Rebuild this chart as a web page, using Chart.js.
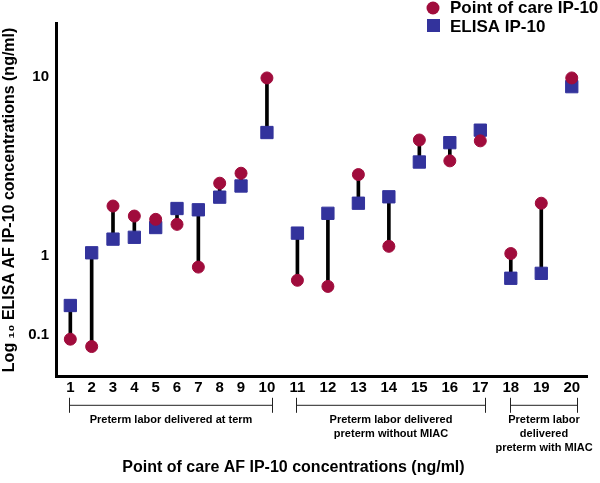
<!DOCTYPE html>
<html>
<head>
<meta charset="utf-8">
<script src="https://cdn.jsdelivr.net/npm/chart.js@4.4.0/dist/chart.umd.min.js"></script>
<style>
  html, body { margin: 0; padding: 0; background: #fff; }
  #wrap { width: 600px; height: 483px; position: relative; }
</style>
</head>
<body>
<div id="wrap"><canvas id="chart-ip10"></canvas></div>
<script>
const cases = ['1', '2', '3', '4', '5', '6', '7', '8', '9', '10',
  '11', '12', '13', '14', '15', '16', '17', '18', '19', '20'];
// ng/ml
const pointOfCare = [0.088, 0.071, 1.9, 1.67, 1.6, 1.5, 0.72, 2.55, 2.9, 9.9,
  0.49, 0.41, 2.85, 1.13, 4.45, 3.4, 4.4, 1.03, 1.97, 9.9];
const elisa = [0.235, 1.04, 1.24, 1.27, 1.44, 1.84, 1.81, 2.13, 2.46, 4.9,
  1.34, 1.73, 1.97, 2.14, 3.35, 4.3, 5.05, 0.52, 0.6, 8.85];
const yTicks = [0.1, 1, 10];
const groupNames = [
  ['Preterm labor delivered at term'],
  ['Preterm labor delivered', 'preterm without MIAC'],
  ['Preterm labor', 'delivered', 'preterm with MIAC']
];
const groupCases = [[1, 10], [11, 17], [18, 20]];

const CIRCLE = '#A00C3C';
const SQUARE = '#33339C';
const FONT = '"Liberation Sans", Arial, Helvetica, sans-serif';

Chart.defaults.font.family = FONT;
Chart.defaults.color = '#000';

// x axis: the first cases sit closer together than the rest
class WeightedCategoryScale extends Chart.CategoryScale {
  static id = 'weightedCategory';
  getPixelForValue(value) {
    if (typeof value !== 'number') value = this.parse(value);
    if (value === null || value === undefined) return NaN;
    const o = this.options;
    const w = i => (i < o.narrowCount ? o.narrowWeight : 1);
    let total = o.leadPad, pos = o.leadPad;
    for (let i = this.min; i <= this.max; i++) {
      if (i < value) pos += w(i);
      total += w(i);
    }
    pos += w(Math.round(value)) / 2;
    return this.getPixelForDecimal(pos / total);
  }
}

// y axis: log axis whose decades above 1 are drawn taller than the one below
class SplitLogScale extends Chart.LinearScale {
  static id = 'splitLog';
  _u(v) {
    const l = Math.log10(v);
    return l > 0 ? l * this.options.decadeRatio : l;
  }
  buildTicks() {
    return yTicks.map(v => ({ value: v }));
  }
  getPixelForValue(value) {
    const a = this._u(this.min), b = this._u(this.max);
    return this.getPixelForDecimal((this._u(value) - a) / (b - a));
  }
}

Chart.register(WeightedCategoryScale, SplitLogScale);

const annotations = {
  id: 'annotations',
  afterDraw(chart) {
    const ctx = chart.ctx;
    const x = chart.scales.x;
    ctx.save();

    // group brackets under the case numbers
    ctx.strokeStyle = '#222';
    ctx.lineWidth = 1;
    ctx.fillStyle = '#000';
    ctx.font = 'bold 11px ' + FONT;
    ctx.textAlign = 'center';
    ctx.textBaseline = 'middle';
    const by = x.top + 28;
    groupCases.forEach(([a, b], g) => {
      const x1 = Math.round(x.getPixelForValue(a - 1)) - 0.5;
      const x2 = Math.round(x.getPixelForValue(b - 1)) + 5.5;
      ctx.beginPath();
      ctx.moveTo(x1, by - 7); ctx.lineTo(x1, by + 8);
      ctx.moveTo(x2, by - 7); ctx.lineTo(x2, by + 8);
      ctx.moveTo(x1, by + 0.5); ctx.lineTo(x2, by + 0.5);
      ctx.stroke();
      groupNames[g].forEach((line, k) => {
        ctx.fillText(line, (x1 + x2) / 2, by + 15 + k * 14);
      });
    });

    // legend, top right
    const ds = chart.data.datasets;
    ctx.textAlign = 'left';
    ctx.font = 'bold 17px ' + FONT;
    ctx.fillStyle = CIRCLE;
    ctx.beginPath();
    ctx.arc(433, 8, 6.5, 0, Math.PI * 2);
    ctx.fill();
    ctx.fillStyle = SQUARE;
    ctx.fillRect(427, 19, 13, 13);
    ctx.fillStyle = '#000';
    ctx.fillText(ds[0].label, 450, 8.5);
    ctx.fillText(ds[1].label, 450, 27);
    ctx.restore();
  }
};

new Chart(document.getElementById('chart-ip10'), {
  type: 'line',
  data: {
    labels: cases,
    datasets: [
      {
        label: 'Point of care IP-10',
        data: pointOfCare,
        showLine: false,
        pointStyle: 'circle',
        pointRadius: 6,
        pointBorderWidth: 1,
        pointBackgroundColor: CIRCLE,
        pointBorderColor: CIRCLE,
        order: 1
      },
      {
        label: 'ELISA IP-10',
        data: elisa,
        showLine: false,
        pointStyle: 'rect',
        pointRadius: 8.7,
        pointBorderWidth: 1,
        pointBackgroundColor: SQUARE,
        pointBorderColor: SQUARE,
        order: 2
      },
      {
        type: 'bar',
        label: 'pair',
        data: cases.map((c, i) => [pointOfCare[i], elisa[i]]),
        backgroundColor: '#000',
        barThickness: 3,
        order: 3
      }
    ]
  },
  options: {
    responsive: true,
    maintainAspectRatio: false,
    animation: false,
    events: [],
    layout: {
      padding: { top: 23, right: 13, left: 0, bottom: 0 }
    },
    scales: {
      x: {
        type: 'weightedCategory',
        narrowCount: 9,
        narrowWeight: 0.7,
        leadPad: 0.12,
        offset: false,
        grid: { display: false, drawTicks: false },
        border: { display: true, color: '#000', width: 3 },
        ticks: {
          autoSkip: false,
          maxRotation: 0,
          padding: 2,
          font: { size: 15, weight: 'bold' }
        },
        afterFit: (scale) => { scale.height = 77; }
      },
      y: {
        type: 'splitLog',
        min: 0.0294,
        max: 20.1,
        decadeRatio: 2.262,
        grid: { display: false, drawTicks: false },
        border: { display: true, color: '#000', width: 3 },
        ticks: {
          padding: 7,
          font: { size: 15, weight: 'bold' },
          callback: (v) => String(v)
        },
        title: {
          display: true,
          text: 'Log \u2081\u2080 ELISA AF IP-10 concentrations (ng/ml)',
          font: { size: 16, weight: 'bold' },
          padding: { top: 0, bottom: 0 }
        },
        afterFit: (scale) => { scale.width = 56; }
      }
    },
    plugins: {
      legend: { display: false },
      tooltip: { enabled: false },
      title: {
        display: true,
        position: 'bottom',
        text: 'Point of care AF IP-10 concentrations (ng/ml)',
        font: { size: 16, weight: 'bold' },
        padding: { top: 4, bottom: 6 }
      }
    }
  },
  plugins: [annotations]
});
</script>
</body>
</html>
